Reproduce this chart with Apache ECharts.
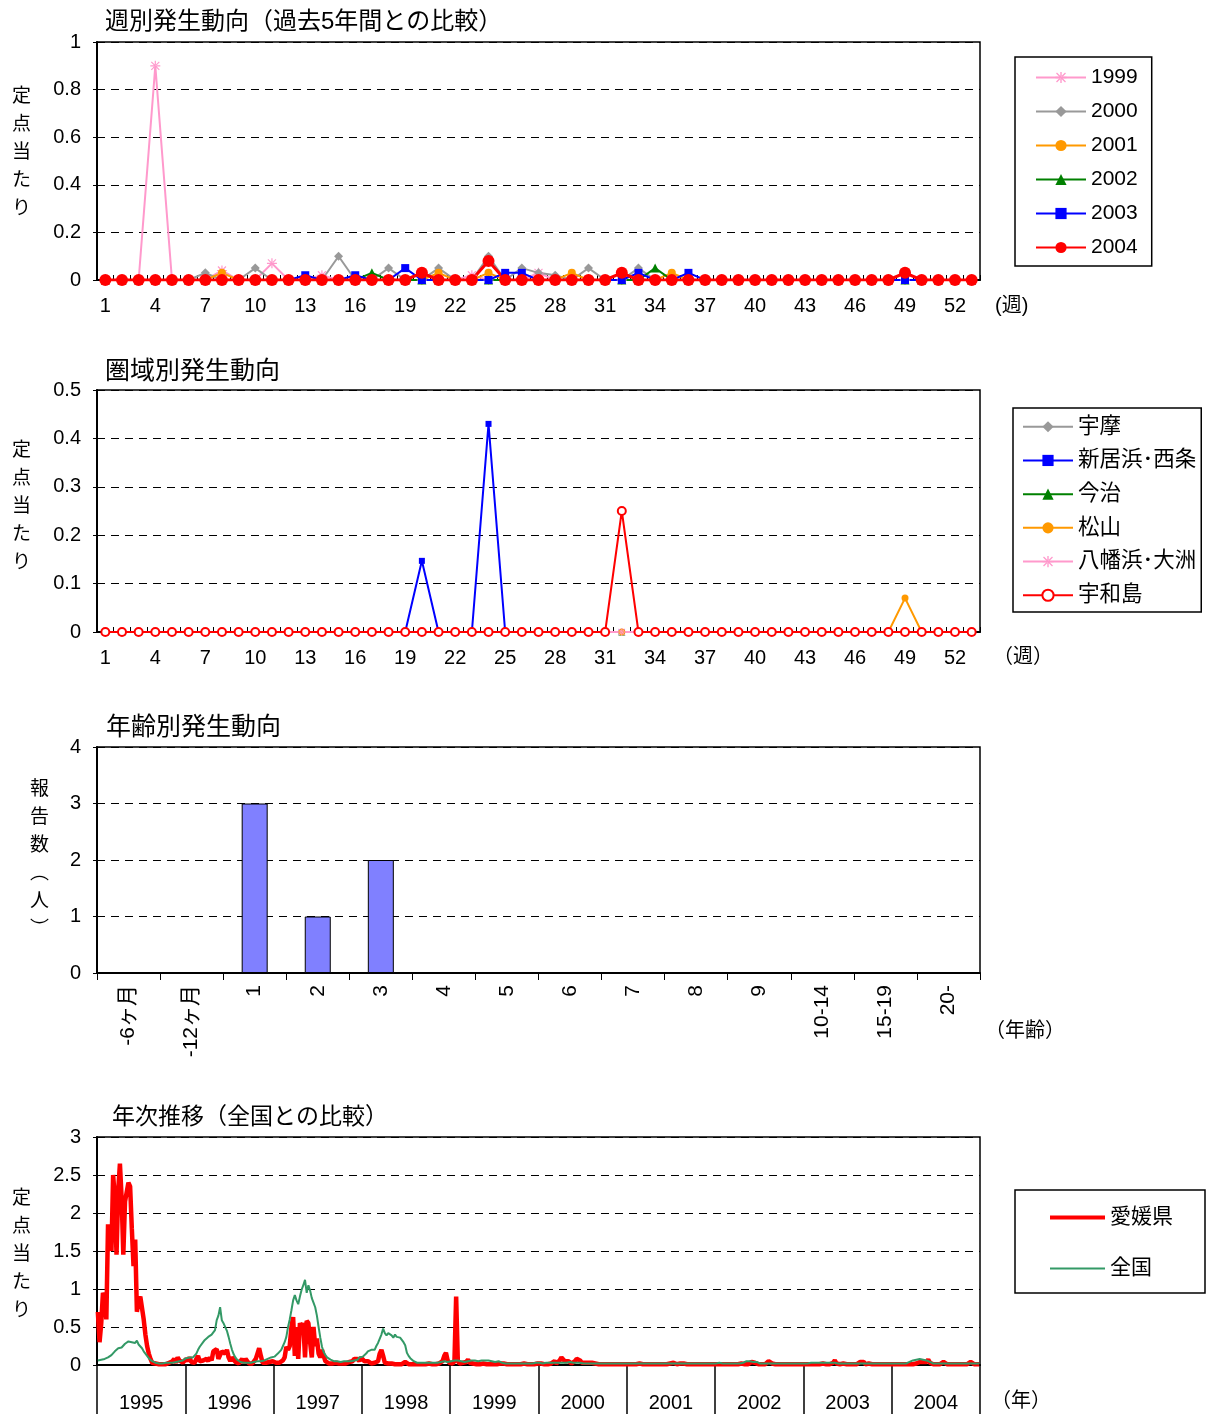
<!DOCTYPE html>
<html><head><meta charset="utf-8">
<script src="https://cdn.jsdelivr.net/npm/echarts@6/dist/echarts.min.js"></script>
<style>html,body{margin:0;padding:0;background:#fff}#c{width:1209px;height:1414px}</style>
</head><body><div id="c"></div><script>
// ---------- Panel 1: weekly, last 5 years ----------
const weekLabels = [];
for (let i = 1; i <= 53; i++) weekLabels.push(String(i));
function wk(pairs) { const a = new Array(53).fill(0); for (const k in pairs) a[k - 1] = pairs[k]; return a; }
const y1999 = wk({4:0.9, 8:0.04, 11:0.07, 14:0.02, 23:0.02, 27:0.03});
const y2000 = wk({7:0.03, 10:0.05, 15:0.1, 18:0.05, 21:0.05, 24:0.1, 26:0.05, 27:0.03, 28:0.02, 30:0.05, 33:0.05});
const y2001 = wk({8:0.03, 21:0.03, 24:0.03, 29:0.03, 35:0.03});
const y2002 = wk({17:0.03, 34:0.05});
const y2003 = wk({13:0.02, 16:0.02, 19:0.05, 25:0.03, 26:0.03, 33:0.03, 36:0.03});
const y2004 = wk({20:0.03, 24:0.08, 32:0.03, 49:0.03});

// ---------- Panel 2: by area ----------
const areaUma     = wk({});
const areaNiihama = wk({20:0.147, 24:0.43});
const areaImabari = wk({});
const areaMatsuyama = wk({49:0.07});
const areaYawatahama = wk({});
const areaUwajima = wk({32:0.25});

// ---------- Panel 3: by age ----------
const ageLabels = ['-6ヶ月','-12ヶ月','1','2','3','4','5','6','7','8','9','10-14','15-19','20-'];
const ageCounts = [0,0,3,1,2,0,0,0,0,0,0,0,0,0];

// ---------- Panel 4: yearly trend ----------
const yearLabels = ['1995','1996','1997','1998','1999','2000','2001','2002','2003','2004'];
const ehime1995 = [0.7,0.3,0.55,0.95,0.9,0.6,1.85,1.85,1.5,2.5,2.2,1.45,2.3,2.65,2.2,1.45,2.15,2.15,2.4,2.35,1.8,1.3,1.65,0.7,0.85,0.9,0.9,0.6,0.4,0.25,0.15,0.08,0.03,0.02,0.02,0.01,0.01,0.02,0.01,0.02,0.01,0.02,0.03,0.02,0.05,0.08,0.03,0.1,0.06,0.04,0.03,0.05];
const ehime1996 = [0.08,0.05,0.1,0.04,0.06,0.03,0.08,0.12,0.05,0.03,0.06,0.04,0.08,0.05,0.1,0.06,0.18,0.2,0.21,0.08,0.1,0.18,0.2,0.15,0.2,0.1,0.05,0.1,0.08,0.04,0.03,0.02,0.05,0.08,0.03,0.08,0.06,0.02,0.03,0.02,0.04,0.08,0.15,0.22,0.12,0.03,0.02,0.03,0.02,0.04,0.03,0.05];
const ehime1997 = [0.04,0.03,0.05,0.03,0.04,0.06,0.1,0.24,0.2,0.25,0.5,0.63,0.12,0.5,0.08,0.55,0.5,0.55,0.1,0.58,0.55,0.3,0.1,0.5,0.25,0.35,0.15,0.1,0.2,0.12,0.05,0.03,0.02,0.03,0.02,0.02,0.03,0.02,0.02,0.03,0.02,0.03,0.02,0.03,0.04,0.03,0.05,0.08,0.1,0.08,0.05,0.1];
const ehime1998 = [0.08,0.05,0.03,0.05,0.04,0.02,0.02,0.03,0.02,0.05,0.15,0.2,0.12,0.03,0.02,0.02,0.01,0.02,0.01,0.01,0.02,0.01,0.02,0.01,0.02,0.04,0.02,0.01,0.01,0.01,0.01,0.01,0.02,0.01,0.01,0.01,0.01,0.01,0.01,0.02,0.01,0.01,0.01,0.01,0.02,0.02,0.03,0.05,0.12,0.16,0.06,0.03];
const ehime1999 = [0.02,0.02,0.05,0.9,0.05,0.02,0.02,0.03,0.02,0.04,0.07,0.03,0.02,0.02,0.02,0.01,0.02,0.01,0.01,0.02,0.01,0.01,0.02,0.01,0.01,0.01,0.01,0.01,0.01,0.02,0.01,0.02,0.01,0.01,0.01,0.01,0.01,0.01,0.01,0.01,0.01,0.01,0.01,0.02,0.01,0.01,0.01,0.01,0.02,0.01,0.01,0.02];
const ehime2000 = [0.01,0.02,0.01,0.01,0.02,0.01,0.02,0.02,0.03,0.05,0.02,0.02,0.06,0.1,0.12,0.05,0.03,0.05,0.03,0.02,0.03,0.05,0.08,0.1,0.06,0.03,0.05,0.03,0.05,0.03,0.02,0.03,0.04,0.02,0.01,0.01,0.01,0.01,0.01,0.01,0.01,0.01,0.01,0.01,0.01,0.01,0.02,0.01,0.01,0.01,0.01,0.01];
const ehime2001 = [0.01,0.01,0.02,0.01,0.01,0.01,0.01,0.02,0.01,0.01,0.01,0.01,0.01,0.01,0.01,0.01,0.01,0.01,0.01,0.01,0.01,0.01,0.01,0.01,0.01,0.02,0.01,0.03,0.01,0.01,0.01,0.02,0.04,0.02,0.01,0.01,0.01,0.01,0.01,0.01,0.01,0.01,0.01,0.01,0.01,0.01,0.01,0.01,0.01,0.01,0.01,0.01];
const ehime2002 = [0.01,0.01,0.01,0.01,0.01,0.01,0.01,0.01,0.01,0.01,0.01,0.01,0.01,0.01,0.01,0.02,0.03,0.01,0.01,0.01,0.02,0.04,0.04,0.03,0.01,0.01,0.01,0.01,0.01,0.01,0.02,0.05,0.07,0.02,0.01,0.01,0.01,0.01,0.01,0.01,0.01,0.01,0.01,0.01,0.01,0.01,0.01,0.01,0.01,0.01,0.01,0.01];
const ehime2003 = [0.01,0.01,0.01,0.01,0.01,0.01,0.01,0.01,0.01,0.01,0.01,0.02,0.03,0.01,0.01,0.01,0.01,0.03,0.06,0.02,0.01,0.01,0.01,0.02,0.03,0.01,0.01,0.01,0.01,0.01,0.01,0.01,0.02,0.04,0.03,0.04,0.01,0.01,0.02,0.01,0.01,0.01,0.01,0.01,0.01,0.01,0.01,0.01,0.01,0.01,0.01,0.01];
const ehime2004 = [0.01,0.01,0.01,0.01,0.01,0.01,0.01,0.01,0.01,0.01,0.01,0.01,0.01,0.01,0.02,0.03,0.04,0.03,0.04,0.05,0.04,0.07,0.03,0.01,0.01,0.01,0.01,0.01,0.01,0.02,0.04,0.02,0.01,0.01,0.01,0.01,0.01,0.01,0.01,0.01,0.01,0.01,0.01,0.01,0.01,0.02,0.04,0.02,0.01,0.01,0.01,0.01];

const zenkoku1995 = [0.06,0.05,0.07,0.06,0.08,0.07,0.1,0.12,0.13,0.15,0.18,0.2,0.22,0.24,0.23,0.25,0.28,0.3,0.31,0.33,0.3,0.28,0.29,0.32,0.27,0.25,0.22,0.18,0.15,0.12,0.09,0.07,0.05,0.04,0.03,0.03,0.02,0.02,0.02,0.02,0.03,0.02,0.03,0.03,0.03,0.04,0.04,0.05,0.05,0.06,0.06,0.07];
const zenkoku1996 = [0.09,0.08,0.1,0.1,0.1,0.12,0.15,0.2,0.24,0.26,0.3,0.33,0.35,0.37,0.36,0.4,0.42,0.46,0.59,0.65,0.76,0.59,0.55,0.53,0.45,0.37,0.28,0.2,0.14,0.1,0.07,0.05,0.04,0.04,0.03,0.03,0.03,0.03,0.03,0.03,0.04,0.04,0.05,0.05,0.05,0.04,0.06,0.06,0.08,0.1,0.1,0.12];
const zenkoku1997 = [0.11,0.13,0.15,0.17,0.2,0.25,0.3,0.37,0.5,0.6,0.72,0.85,0.92,0.85,0.8,0.9,0.99,1.05,1.12,0.95,1.05,0.98,0.88,0.82,0.76,0.65,0.5,0.36,0.24,0.17,0.13,0.1,0.08,0.07,0.06,0.05,0.05,0.05,0.05,0.04,0.05,0.05,0.05,0.05,0.06,0.05,0.06,0.06,0.07,0.07,0.1,0.12];
const zenkoku1998 = [0.11,0.13,0.15,0.18,0.16,0.2,0.22,0.2,0.25,0.29,0.3,0.4,0.48,0.42,0.39,0.42,0.4,0.39,0.36,0.4,0.37,0.35,0.36,0.33,0.3,0.26,0.16,0.12,0.09,0.07,0.05,0.04,0.03,0.03,0.03,0.03,0.03,0.03,0.03,0.03,0.03,0.03,0.03,0.03,0.03,0.04,0.04,0.04,0.05,0.05,0.04,0.06];
const zenkoku1999 = [0.05,0.05,0.06,0.07,0.06,0.05,0.05,0.05,0.04,0.05,0.05,0.05,0.06,0.06,0.06,0.06,0.05,0.06,0.06,0.06,0.06,0.06,0.06,0.06,0.05,0.05,0.04,0.04,0.05,0.04,0.03,0.03,0.02,0.02,0.02,0.02,0.02,0.02,0.02,0.02,0.02,0.02,0.02,0.02,0.02,0.02,0.02,0.03,0.02,0.03,0.03,0.03];
const zenkoku2000 = [0.03,0.03,0.02,0.03,0.03,0.03,0.03,0.02,0.03,0.03,0.03,0.03,0.03,0.04,0.03,0.03,0.03,0.03,0.04,0.03,0.03,0.03,0.03,0.03,0.03,0.03,0.02,0.02,0.02,0.02,0.02,0.02,0.02,0.02,0.02,0.02,0.02,0.02,0.02,0.02,0.02,0.02,0.02,0.02,0.02,0.02,0.02,0.02,0.02,0.02,0.02,0.02];
const zenkoku2001 = [0.02,0.02,0.02,0.02,0.02,0.02,0.02,0.02,0.02,0.02,0.02,0.02,0.02,0.02,0.02,0.02,0.02,0.02,0.02,0.02,0.02,0.02,0.02,0.02,0.02,0.02,0.02,0.02,0.02,0.02,0.02,0.02,0.02,0.02,0.02,0.02,0.02,0.02,0.02,0.02,0.02,0.02,0.02,0.02,0.02,0.02,0.02,0.03,0.02,0.02,0.02,0.02];
const zenkoku2002 = [0.02,0.02,0.03,0.02,0.02,0.02,0.02,0.02,0.02,0.02,0.02,0.02,0.02,0.02,0.02,0.02,0.03,0.04,0.05,0.05,0.05,0.05,0.04,0.05,0.04,0.03,0.02,0.02,0.02,0.02,0.02,0.02,0.02,0.02,0.02,0.02,0.02,0.02,0.02,0.02,0.02,0.02,0.02,0.02,0.02,0.02,0.02,0.02,0.02,0.02,0.02,0.02];
const zenkoku2003 = [0.02,0.02,0.02,0.02,0.03,0.03,0.03,0.03,0.03,0.03,0.03,0.03,0.03,0.03,0.03,0.03,0.03,0.03,0.03,0.03,0.02,0.02,0.02,0.02,0.02,0.02,0.02,0.02,0.02,0.02,0.02,0.02,0.02,0.02,0.02,0.02,0.02,0.02,0.02,0.02,0.02,0.02,0.02,0.02,0.02,0.02,0.02,0.02,0.02,0.02,0.02,0.02];
const zenkoku2004 = [0.02,0.02,0.02,0.02,0.02,0.02,0.02,0.02,0.02,0.03,0.04,0.05,0.06,0.06,0.07,0.07,0.08,0.07,0.07,0.06,0.06,0.05,0.04,0.03,0.02,0.02,0.02,0.02,0.02,0.02,0.02,0.02,0.02,0.02,0.02,0.02,0.02,0.02,0.02,0.02,0.02,0.02,0.02,0.02,0.02,0.02,0.02,0.02,0.02,0.02,0.02,0.02];

const ehimeYears = [ehime1995,ehime1996,ehime1997,ehime1998,ehime1999,ehime2000,ehime2001,ehime2002,ehime2003,ehime2004];
const zenkokuYears = [zenkoku1995,zenkoku1996,zenkoku1997,zenkoku1998,zenkoku1999,zenkoku2000,zenkoku2001,zenkoku2002,zenkoku2003,zenkoku2004];
const trendCats = [];
for (let y = 0; y < 10; y++) for (let w = 1; w <= 52; w++) trendCats.push(yearLabels[y] + '-' + w);
function toPairs(years) { const out = []; years.forEach((arr, y) => arr.forEach((v, i) => { if (i < 52) out.push([y * 52 + i, v]); })); return out; }

// ---------- styles ----------
const F = '"Liberation Sans", "Noto Sans CJK JP", sans-serif';
const BLACK = '#000';
const ASTER = 'path://M4.4,0h1.2v10h-1.2z M0.6,1.4 L1.4,0.6 L9.4,8.6 L8.6,9.4z M9.4,1.4 L8.6,0.6 L0.6,8.6 L1.4,9.4z M0,4.4h10v1.2h-10z';

function grid(top, height) { return { left: 97, top: top, width: 883, height: height, show: true, borderColor: BLACK, borderWidth: 1.5, backgroundColor: '#fff' }; }
function yAx(gi, max, interval) {
  return { type: 'value', gridIndex: gi, min: 0, max: max, interval: interval,
    axisLine: { show: true, lineStyle: { color: BLACK, width: 2 } },
    axisTick: { show: true, length: 4, lineStyle: { color: BLACK } },
    axisLabel: { color: BLACK, fontSize: 20, fontFamily: F, margin: 16 },
    splitLine: { show: true, lineStyle: { color: BLACK, type: [8, 6], width: 1 } } };
}
function weekX(gi) {
  return { type: 'category', gridIndex: gi, data: weekLabels, boundaryGap: true,
    axisLine: { lineStyle: { color: BLACK, width: 2 } },
    axisTick: { show: true, inside: true, length: 5, interval: 0, lineStyle: { color: BLACK } },
    axisLabel: { interval: 2, color: BLACK, fontSize: 20, fontFamily: F, margin: 16 },
    splitLine: { show: false } };
}
function line(name, data, gi, color, symbol, size, width, extra) {
  return Object.assign({ type: 'line', name: name, data: data, xAxisIndex: gi, yAxisIndex: gi,
    symbol: symbol, symbolSize: size, showAllSymbol: true, animation: false,
    lineStyle: { color: color, width: width }, itemStyle: { color: color } }, extra || {});
}
function legend(left, top, data, pad, itemW, gap, fs) {
  return { orient: 'vertical', left: left, top: top, data: data, padding: pad, itemWidth: itemW, itemHeight: 14, itemGap: gap,
    borderColor: BLACK, borderWidth: 1.5, selectedMode: false,
    textStyle: { color: BLACK, fontSize: fs, lineHeight: 20, fontFamily: F } };
}
function vtext(x, top, str, size) {
  return { type: 'text', left: x, top: top, style: { text: str, font: size + 'px ' + F, fill: BLACK, lineHeight: 28, align: 'center' } };
}
function txt(x, y, str, size) {
  return { type: 'text', left: x, top: y, style: { text: str, font: size + 'px ' + F, fill: BLACK } };
}

const option = {
  animation: false,
  backgroundColor: '#fff',
  grid: [grid(42, 238), grid(390, 242), grid(747, 226), grid(1137, 228)],
  xAxis: [
    weekX(0), weekX(1),
    { type: 'category', gridIndex: 2, data: ageLabels, boundaryGap: true,
      axisLine: { lineStyle: { color: BLACK, width: 2 } },
      axisTick: { show: true, length: 7, interval: 0, lineStyle: { color: BLACK } },
      axisLabel: { interval: 0, rotate: 90, color: BLACK, fontSize: 21, fontFamily: F, margin: 12 } },
    { type: 'category', gridIndex: 3, data: trendCats, boundaryGap: true,
      axisLine: { lineStyle: { color: BLACK, width: 2 } }, axisTick: { show: false }, axisLabel: { show: false } },
    { type: 'category', gridIndex: 3, data: yearLabels, boundaryGap: true, position: 'bottom',
      axisLine: { show: false },
      axisTick: { show: true, length: 50, interval: 0, lineStyle: { color: BLACK, width: 1.5 } },
      axisLabel: { interval: 0, color: BLACK, fontSize: 20, fontFamily: F, margin: 28 } }
  ],
  yAxis: [yAx(0, 1, 0.2), yAx(1, 0.5, 0.1), yAx(2, 4, 1), yAx(3, 3, 0.5)],
  legend: [
    legend(1015, 57, ['1999','2000','2001','2002','2003','2004'], [10, 14, 8, 20], 50, 13, 21),
    legend(1013, 408, ['宇摩','新居浜･西条','今治','松山','八幡浜･大洲','宇和島'], [8, 5, 6, 9], 50, 12.2, 21.5),
    legend(1015, 1190, [
      { name: '愛媛県', icon: 'path://M0,0h55v4h-55z' },
      { name: '全国', icon: 'path://M0,0h55v2h-55z' }
    ], [17, 32, 14, 35], 55, 30, 21)
  ],
  series: [
    line('1999', y1999, 0, '#ff99cc', ASTER, 10, 2),
    line('2000', y2000, 0, '#999999', 'diamond', 9, 2),
    line('2001', y2001, 0, '#ff9900', 'circle', 8, 2),
    line('2002', y2002, 0, '#008000', 'triangle', 9, 2),
    line('2003', y2003, 0, '#0000ff', 'rect', 8, 2),
    line('2004', y2004, 0, '#ff0000', 'circle', 12, 3),

    line('宇摩', areaUma, 1, '#999999', 'diamond', 7, 2),
    line('新居浜･西条', areaNiihama, 1, '#0000ff', 'rect', 6, 2),
    line('今治', areaImabari, 1, '#008000', 'triangle', 7, 2),
    line('松山', areaMatsuyama, 1, '#ff9900', 'circle', 7, 2),
    line('八幡浜･大洲', areaYawatahama, 1, '#ff99cc', ASTER, 8, 2),
    line('宇和島', areaUwajima, 1, '#ff0000', 'circle', 8, 2, { itemStyle: { color: '#fff', borderColor: '#ff0000', borderWidth: 2 } }),

    { type: 'bar', name: 'age', data: ageCounts, xAxisIndex: 2, yAxisIndex: 2, barWidth: 26,
      itemStyle: { color: '#8080ff', borderColor: BLACK, borderWidth: 1 } },

    line('愛媛県', toPairs(ehimeYears), 3, '#ff0000', 'none', 0, 4.5),
    line('全国', toPairs(zenkokuYears), 3, '#339966', 'none', 0, 2)
  ],
  graphic: [
    txt(105, 10, '週別発生動向（過去5年間との比較）', 24),
    txt(105, 360, '圏域別発生動向', 25),
    txt(106, 716, '年齢別発生動向', 25),
    txt(112, 1106, '年次推移（全国との比較）', 23),
    vtext(12, 83, '定\n点\n当\nた\nり', 19),
    vtext(12, 437, '定\n点\n当\nた\nり', 19),
    vtext(30, 776, '報\n告\n数\n︵\n人\n︶', 19),
    vtext(12, 1185, '定\n点\n当\nた\nり', 19),
    txt(995, 296, '(週)', 20),
    txt(993, 647, '（週）', 20),
    txt(985, 1021, '（年齢）', 20),
    txt(991, 1391, '（年）', 20)
  ]
};
const chart = echarts.init(document.getElementById('c'), null, { renderer: 'canvas' });
chart.setOption(option);
</script></body></html>
